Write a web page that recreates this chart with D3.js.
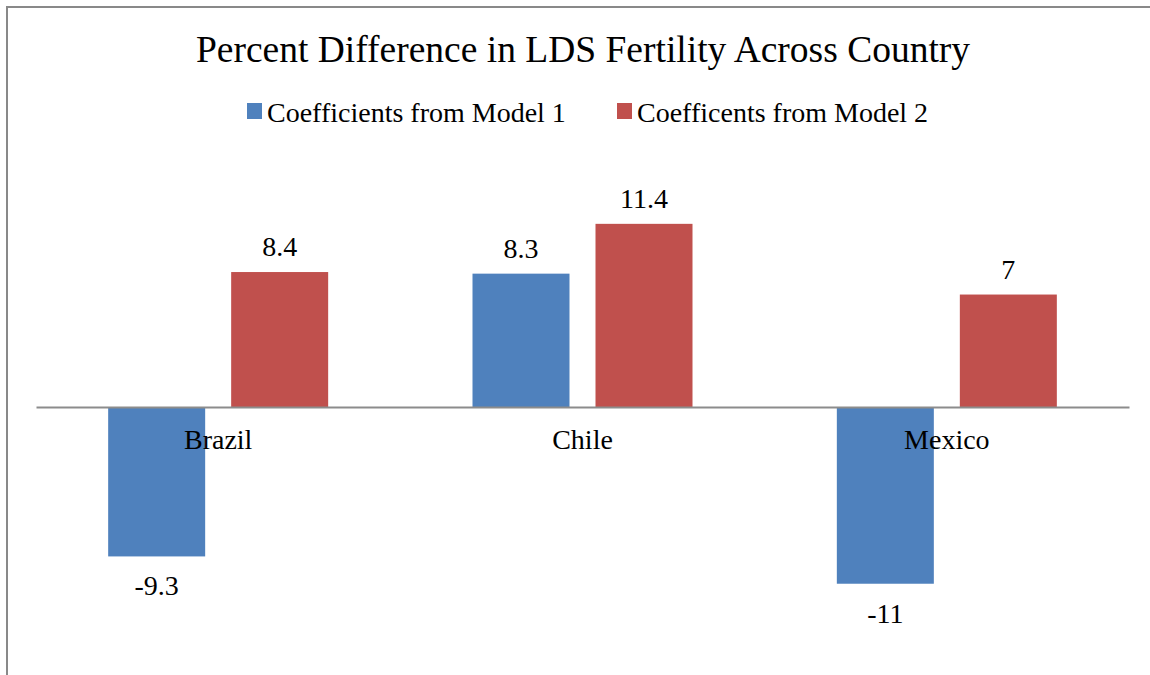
<!DOCTYPE html>
<html>
<head>
<meta charset="utf-8">
<script src="https://cdn.jsdelivr.net/npm/d3@7"></script>
<style>
  body { margin: 0; background: #fff; }
  text { font-family: "Liberation Serif", "Times New Roman", serif; fill: #000; }
</style>
</head>
<body>
<script>
var countries = ['Brazil', 'Chile', 'Mexico'];
var seriesNames = ['Coefficients from Model 1', 'Coefficents from Model 2'];
var model1 = [-9.3, 8.3, -11];
var model2 = [8.4, 11.4, 7];
var colors = ['#4f81bd', '#c0504d'];

var _width = 1150,
    _height = 675;

var svg = d3.select('body').append('svg')
    .attr('width', _width)
    .attr('height', _height);

// frame (left and top edges visible)
svg.append('path')
    .attr('d', 'M7,675 V7 H1150')
    .attr('fill', 'none')
    .attr('stroke', '#898989')
    .attr('stroke-width', 2);

svg.append('text')
    .attr('x', 583).attr('y', 62)
    .attr('text-anchor', 'middle')
    .style('font-size', '37.5px')
    .text('Percent Difference in LDS Fertility Across Country');

// legend
var legendX = [247, 617];
var lg = svg.selectAll('.legend').data(seriesNames).enter().append('g')
    .attr('class', 'legend')
    .attr('transform', function(d, i){ return 'translate(' + legendX[i] + ',103)'; });
lg.append('rect')
    .attr('width', 15).attr('height', 16)
    .attr('fill', function(d, i){ return colors[i]; });
lg.append('text')
    .attr('x', 20).attr('y', 19)
    .style('font-size', '28px')
    .text(function(d){ return d; });

var x0 = d3.scaleBand().domain(countries).range([36, 1129]);
var y = d3.scaleLinear().domain([-15, 15]).range([648, 166]);

var barW = 97, gap = 26;
var data = [];
countries.forEach(function(c, i){
    data.push({c: c, s: 0, v: model1[i]});
    data.push({c: c, s: 1, v: model2[i]});
});
var bx = function(d){
    var mid = x0(d.c) + x0.bandwidth() / 2;
    return d.s === 0 ? mid - gap / 2 - barW : mid + gap / 2;
};

svg.selectAll('.bar').data(data).enter().append('rect')
    .attr('class', 'bar')
    .attr('x', bx)
    .attr('width', barW)
    .attr('y', function(d){ return y(Math.max(0, d.v)); })
    .attr('height', function(d){ return Math.abs(y(d.v) - y(0)); })
    .attr('fill', function(d){ return colors[d.s]; });

svg.selectAll('.vlabel').data(data).enter().append('text')
    .attr('class', 'vlabel')
    .attr('x', function(d){ return bx(d) + barW / 2; })
    .attr('y', function(d){ return d.v >= 0 ? y(d.v) - 16 : y(d.v) + 39; })
    .attr('text-anchor', 'middle')
    .style('font-size', '28px')
    .text(function(d){ return d.v; });

// zero axis
var xAxis = d3.axisBottom(x0).tickSize(0).tickPadding(0);
var ax = svg.append('g')
    .attr('transform', 'translate(0,' + y(0) + ')')
    .call(xAxis);
ax.select('.domain').attr('stroke', '#8c8c8c').attr('stroke-width', 2);
ax.selectAll('text')
    .attr('dy', null)
    .attr('y', 42)
    .style('font-size', '28px')
    .style('font-family', '"Liberation Serif", serif')
    .attr('fill', '#000');
</script>
</body>
</html>
